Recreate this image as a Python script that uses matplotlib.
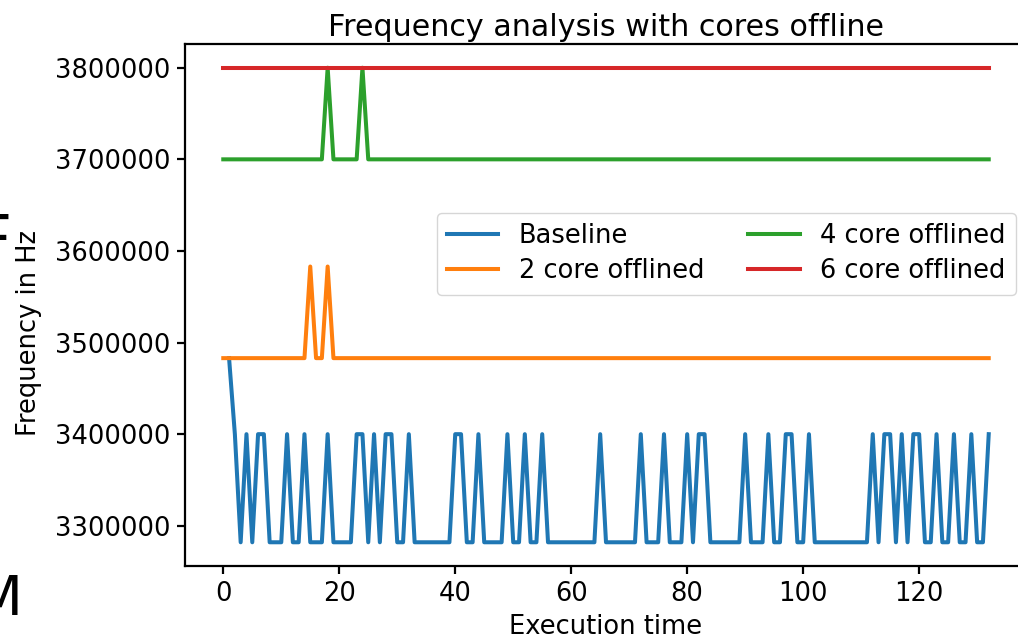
import matplotlib
matplotlib.use("Agg")
import matplotlib.pyplot as plt
import numpy as np

# execution time steps
time_full = list(range(0, 133))
time_baseline = list(range(1, 133))

# Baseline frequency (Hz), x = 1..132
baseline = [
    3483000, 3400000, 3282000, 3400000, 3282000, 3400000, 3400000, 3282000, 3282000, 3282000,
    3400000, 3282000, 3282000, 3400000, 3282000, 3282000, 3282000, 3400000, 3282000, 3282000,
    3282000, 3282000, 3400000, 3400000, 3282000, 3400000, 3282000, 3400000, 3400000, 3282000,
    3282000, 3400000, 3282000, 3282000, 3282000, 3282000, 3282000, 3282000, 3282000, 3400000,
    3400000, 3282000, 3282000, 3400000, 3282000, 3282000, 3282000, 3282000, 3400000, 3282000,
    3282000, 3400000, 3282000, 3282000, 3400000, 3282000, 3282000, 3282000, 3282000, 3282000,
    3282000, 3282000, 3282000, 3282000, 3400000, 3282000, 3282000, 3282000, 3282000, 3282000,
    3282000, 3400000, 3282000, 3282000, 3282000, 3400000, 3282000, 3282000, 3282000, 3400000,
    3282000, 3400000, 3400000, 3282000, 3282000, 3282000, 3282000, 3282000, 3282000, 3400000,
    3282000, 3282000, 3282000, 3400000, 3282000, 3282000, 3400000, 3400000, 3282000, 3282000,
    3400000, 3282000, 3282000, 3282000, 3282000, 3282000, 3282000, 3282000, 3282000, 3282000,
    3282000, 3400000, 3282000, 3400000, 3400000, 3282000, 3400000, 3282000, 3400000, 3400000,
    3282000, 3282000, 3400000, 3282000, 3282000, 3400000, 3282000, 3282000, 3400000, 3282000,
    3282000, 3400000,
]

# 2 core offlined: flat with spikes at t=15 and t=18
two_core_base = 3483000
two_core_spikes = {15: 3583000, 18: 3583000}

# 4 core offlined: flat with spikes at t=18 and t=24
four_core_base = 3700000
four_core_spikes = {18: 3800000, 24: 3800000}

# 6 core offlined: flat
six_core_base = 3800000

labels = ["Baseline", "2 core offlined", "4 core offlined", "6 core offlined"]
colors = ["#1f77b4", "#ff7f0e", "#2ca02c", "#d62728"]

two_core = [two_core_spikes.get(t, two_core_base) for t in time_full]
four_core = [four_core_spikes.get(t, four_core_base) for t in time_full]
six_core = [six_core_base for t in time_full]

plt.rcParams["font.family"] = "DejaVu Sans"
plt.rcParams["font.size"] = 18.5

fig = plt.figure(figsize=(10.18, 6.38), dpi=100)
ax = fig.add_axes([185 / 1018, 72 / 638, 842 / 1018, 522 / 638])

lw = 2.9
ax.plot(time_baseline, baseline, color=colors[0], lw=lw, label=labels[0])
ax.plot(time_full, two_core, color=colors[1], lw=lw, label=labels[1])
ax.plot(time_full, four_core, color=colors[2], lw=lw, label=labels[2])
ax.plot(time_full, six_core, color=colors[3], lw=lw, label=labels[3])

ax.ticklabel_format(axis="y", style="plain", useOffset=False)
ax.set_xticks([0, 20, 40, 60, 80, 100, 120])
ax.set_yticks([3300000, 3400000, 3500000, 3600000, 3700000, 3800000])
ax.tick_params(width=1.6, length=5.5, pad=5)
for s in ax.spines.values():
    s.set_linewidth(1.6)

ax.set_xlabel("Execution time", labelpad=5)
ax.set_ylabel("Frequency in Hz")
ax.yaxis.set_label_coords(-0.170, 0.446)
ax.set_title("Frequency analysis with cores offline", fontsize=21.7, pad=6)

ax.legend(ncol=2, loc="upper left", bbox_to_anchor=(0.299, 0.676),
          borderaxespad=0, columnspacing=1.7, handlelength=2.0,
          labelspacing=0.35)

# cropped slide text at the left edge
fig.text(-26 / 1018, 1 - 245 / 638, "F", fontsize=48, ha="left", va="center")
fig.text(-25 / 1018, 1 - 600 / 638, "M", fontsize=40, ha="left", va="center")

fig.savefig("out.png", dpi=100)
